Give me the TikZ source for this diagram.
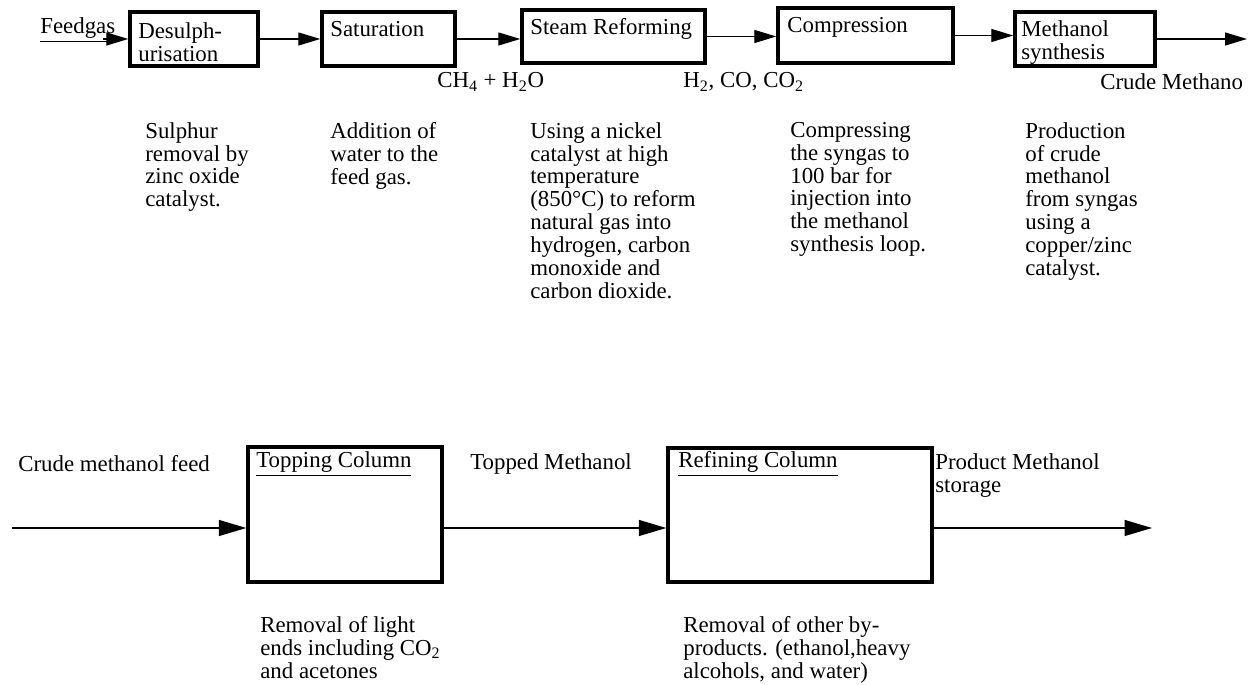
\documentclass[tikz,border=0pt]{standalone}
\usepackage{fontspec}
\setmainfont{Liberation Serif}
\usetikzlibrary{arrows.meta, positioning}

\begin{document}
\begin{tikzpicture}[x=0.02cm, y=-0.02cm,
  every node/.style={font=\fontsize{13}{13}\selectfont},
  unit/.style={draw, line width=2pt, inner sep=0pt},
  tag/.style={inner sep=0pt, anchor=west},
  note/.style={inner sep=0pt, anchor=north west, align=left},
  flow/.style={line width=0.8pt, -{Triangle[length=0.44cm, width=0.26cm]}},
  bigflow/.style={line width=0.8pt, -{Triangle[length=0.55cm, width=0.32cm]}}]
  \useasboundingbox (0,0) rectangle (1249,685);

  % synthesis train
  \node (desul) [unit, minimum width=2.56cm, minimum height=1.08cm] at (194,39) {};
  \node (satur) [unit, minimum width=2.66cm, minimum height=1.08cm] at (388.5,39) {};
  \node (steam) [unit, minimum width=3.66cm, minimum height=1.06cm] at (613.5,36.5) {};
  \node (compr) [unit, minimum width=3.5cm, minimum height=1.1cm] at (865.5,35.5) {};
  \node (methsyn) [unit, minimum width=2.8cm, minimum height=1.08cm] at (1085,39) {};

  \node (desultxt) [note] at (138,22) {Desulph-\\urisation};
  \node (saturtxt) [note] at (330,21) {Saturation};
  \node (steamtxt) [note] at (530,18) {Steam Reforming};
  \node (comprtxt) [note] at (787,17) {Compression};
  \node (methsyntxt) [note] at (1021,20) {Methanol\\synthesis};

  \node (feedgas) [tag] at (40,30) {\underline{Feedgas}};
  \coordinate (fgin) at (103,39);
  \coordinate (crudeout) at (1247,39);
  \draw[flow] (fgin) -- (desul.west);
  \draw[flow] (desul.east) -- (desul.east -| satur.west);
  \draw[flow] (satur.east) -- (satur.east -| steam.west);
  \draw[flow] (steam.east) -- (steam.east -| compr.west);
  \draw[flow] (compr.east) -- (compr.east -| methsyn.west);
  \draw[flow] (methsyn.east) -- (crudeout);

  \node (feedmix) [tag] at (437,82) {CH\textsubscript{4} + H\textsubscript{2}O};
  \node (syngas) [tag] at (683,82) {H\textsubscript{2}, CO, CO\textsubscript{2}};
  \node (crude) [tag] at (1100,82) {Crude Methano};

  \node (desulnote) [note] at (145,122) {Sulphur\\removal by\\zinc oxide\\catalyst.};
  \node (saturnote) [note] at (330,122) {Addition of\\water to the\\feed gas.};
  \node (steamnote) [note] at (530,122) {Using a nickel\\catalyst at high\\temperature\\(850°C) to reform\\natural gas into\\hydrogen, carbon\\monoxide and\\carbon dioxide.};
  \node (comprnote) [note] at (790,122) {Compressing\\the syngas to\\100 bar for\\injection into\\the methanol\\synthesis loop.};
  \node (methsynnote) [note] at (1025,122) {Production\\of crude\\methanol\\from syngas\\using a\\copper/zinc\\catalyst.};

  % distillation
  \node (topcol) [unit, minimum width=3.88cm, minimum height=2.7cm] at (345,514.5) {};
  \node (refcol) [unit, minimum width=5.28cm, minimum height=2.68cm] at (800,515) {};

  \node (topcoltxt) [tag] at (256,464) {\underline{Topping Column}};
  \node (refcoltxt) [tag] at (678,464) {\underline{Refining Column}};
  \node (crudefeed) [tag] at (18,464) {Crude methanol feed};
  \node (topped) [tag] at (470,464) {Topped Methanol};
  \node (product) [note] at (935,453) {Product Methanol\\storage};

  \coordinate (feedin) at (12,528);
  \coordinate (prodout) at (1152,528);
  \draw[bigflow] (feedin) -- (feedin -| topcol.west);
  \draw[bigflow] (feedin -| topcol.east) -- (feedin -| refcol.west);
  \draw[bigflow] (feedin -| refcol.east) -- (prodout);

  \node (topnote) [note] at (260,616) {Removal of light\\ends including CO\textsubscript{2}\\and acetones};
  \node (refnote) [note] at (683,616) {Removal of other by-\\products. (ethanol,heavy\\alcohols, and water)};
\end{tikzpicture}
\end{document}
